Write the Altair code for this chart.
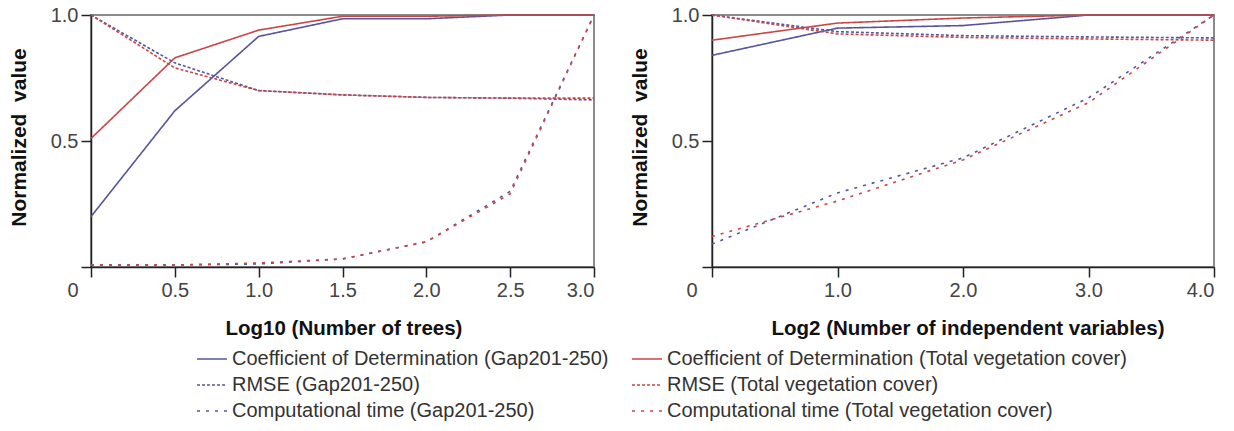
import altair as alt
import pandas as pd

# Log10(number of trees)
trees_x = [0, 0.5, 1.0, 1.5, 2.0, 2.5, 3.0]
gap_r2_trees = [0.20, 0.62, 0.915, 0.985, 0.985, 1.0, 1.0]
tvc_r2_trees = [0.51, 0.83, 0.94, 0.995, 0.995, 1.0, 1.0]
gap_rmse_trees = [1.0, 0.81, 0.70, 0.683, 0.673, 0.670, 0.663]
tvc_rmse_trees = [1.0, 0.79, 0.70, 0.683, 0.673, 0.670, 0.670]
gap_time_trees = [0.008, 0.008, 0.012, 0.032, 0.10, 0.30, 1.0]
tvc_time_trees = [0.008, 0.008, 0.016, 0.032, 0.10, 0.29, 1.0]

# Log2(number of independent variables)
vars_x = [0, 1, 2, 3, 4]
gap_r2_vars = [0.84, 0.948, 0.958, 1.0, 1.0]
tvc_r2_vars = [0.90, 0.968, 0.988, 1.0, 1.0]
gap_rmse_vars = [1.0, 0.934, 0.918, 0.913, 0.909]
tvc_rmse_vars = [1.0, 0.925, 0.911, 0.905, 0.900]
gap_time_vars = [0.091, 0.294, 0.433, 0.671, 1.0]
tvc_time_vars = [0.121, 0.262, 0.425, 0.652, 1.0]

# legend order: Gap201-250 column first, then Total vegetation cover column
series_names = [
    "Coefficient of Determination (Gap201-250)",
    "RMSE (Gap201-250)",
    "Computational time (Gap201-250)",
    "Coefficient of Determination (Total vegetation cover)",
    "RMSE (Total vegetation cover)",
    "Computational time (Total vegetation cover)",
]
series_colors = ["#55559e"] * 3 + ["#c84646"] * 3
series_dashes = [[1, 0], [3, 2], [3, 6]] * 2

FONT = "Liberation Sans"


def long_table(xs, columns):
    rows = []
    for name, values in zip(series_names, columns):
        for x, v in zip(xs, values):
            rows.append({"x": x, "value": v, "series": name})
    return pd.DataFrame(rows)


trees_df = long_table(trees_x, [gap_r2_trees, gap_rmse_trees, gap_time_trees,
                                tvc_r2_trees, tvc_rmse_trees, tvc_time_trees])
vars_df = long_table(vars_x, [gap_r2_vars, gap_rmse_vars, gap_time_vars,
                              tvc_r2_vars, tvc_rmse_vars, tvc_time_vars])

color_enc = alt.Color("series:N", scale=alt.Scale(domain=series_names, range=series_colors),
                      legend=alt.Legend(title=None, orient="none", legendX=105, legendY=328,
                                        columns=2, direction="vertical",
                                        symbolType="stroke", symbolSize=900,
                                        symbolStrokeWidth=1.6, labelFontSize=20,
                                        labelFont=FONT, labelColor="#333",
                                        rowPadding=0, columnPadding=19,
                                        labelOffset=4, labelLimit=700))
dash_enc = alt.StrokeDash("series:N", scale=alt.Scale(domain=series_names, range=series_dashes),
                          legend=None)

y_axis = alt.Axis(values=[0, 0.5, 1.0],
                  labelExpr="datum.value == 0 ? '' : format(datum.value, '.1f')",
                  title="Normalized \u00a0value", titleX=-66, titleY=122,
                  titleBaseline="alphabetic", titleAngle=-90, titleFontSize=21)


def panel(df, xmax, xvals, xtitle, title_x, zero_dx, width):
    x_enc = alt.X("x:Q", scale=alt.Scale(domain=[0, xmax], nice=False),
                  axis=alt.Axis(values=xvals,
                                labelExpr="datum.value == 0 ? '' : format(datum.value, '.1f')",
                                title=xtitle, titleX=title_x, titleY=67, titleAlign="left",
                                titleBaseline="alphabetic", titleFontSize=20.5))
    y_enc = alt.Y("value:Q", scale=alt.Scale(domain=[0, 1], nice=False), axis=y_axis)
    lines = alt.Chart(df).mark_line(strokeWidth=1.6).encode(
        x=x_enc, y=y_enc, color=color_enc, strokeDash=dash_enc,
        order=alt.Order("x:Q"))
    origin = alt.Chart(pd.DataFrame({"x": [0], "value": [0], "label": ["0"]})).mark_text(
        font=FONT, fontSize=20, color="#444", dx=zero_dx, dy=24, baseline="middle"
    ).encode(x="x:Q", y="value:Q", text="label:N")
    return (lines + origin).properties(width=width, height=252)


left = panel(trees_df, 3.0, trees_x, "Log10 (Number of trees)", 134, -18, 503)
right = panel(vars_df, 4.0, vars_x, "Log2 (Number of independent variables)", 59, -20, 502)

chart = alt.hconcat(left, right, spacing=28).properties(
    padding={"left": 6, "top": 4, "right": 0, "bottom": 0},
    background="white"
).configure_view(
    stroke="#8a8a8a", strokeWidth=2
).configure_axis(
    grid=False, domainColor="#222", domainWidth=1.5, tickColor="#222", tickWidth=1.5,
    tickSize=10, labelPadding=3, labelFont=FONT, labelFontSize=20, labelColor="#444",
    titleFont=FONT, titleFontSize=20, titleFontWeight="bold", titleColor="#111"
)

chart.save("out.html", embed_options={"renderer": "svg", "actions": False})
